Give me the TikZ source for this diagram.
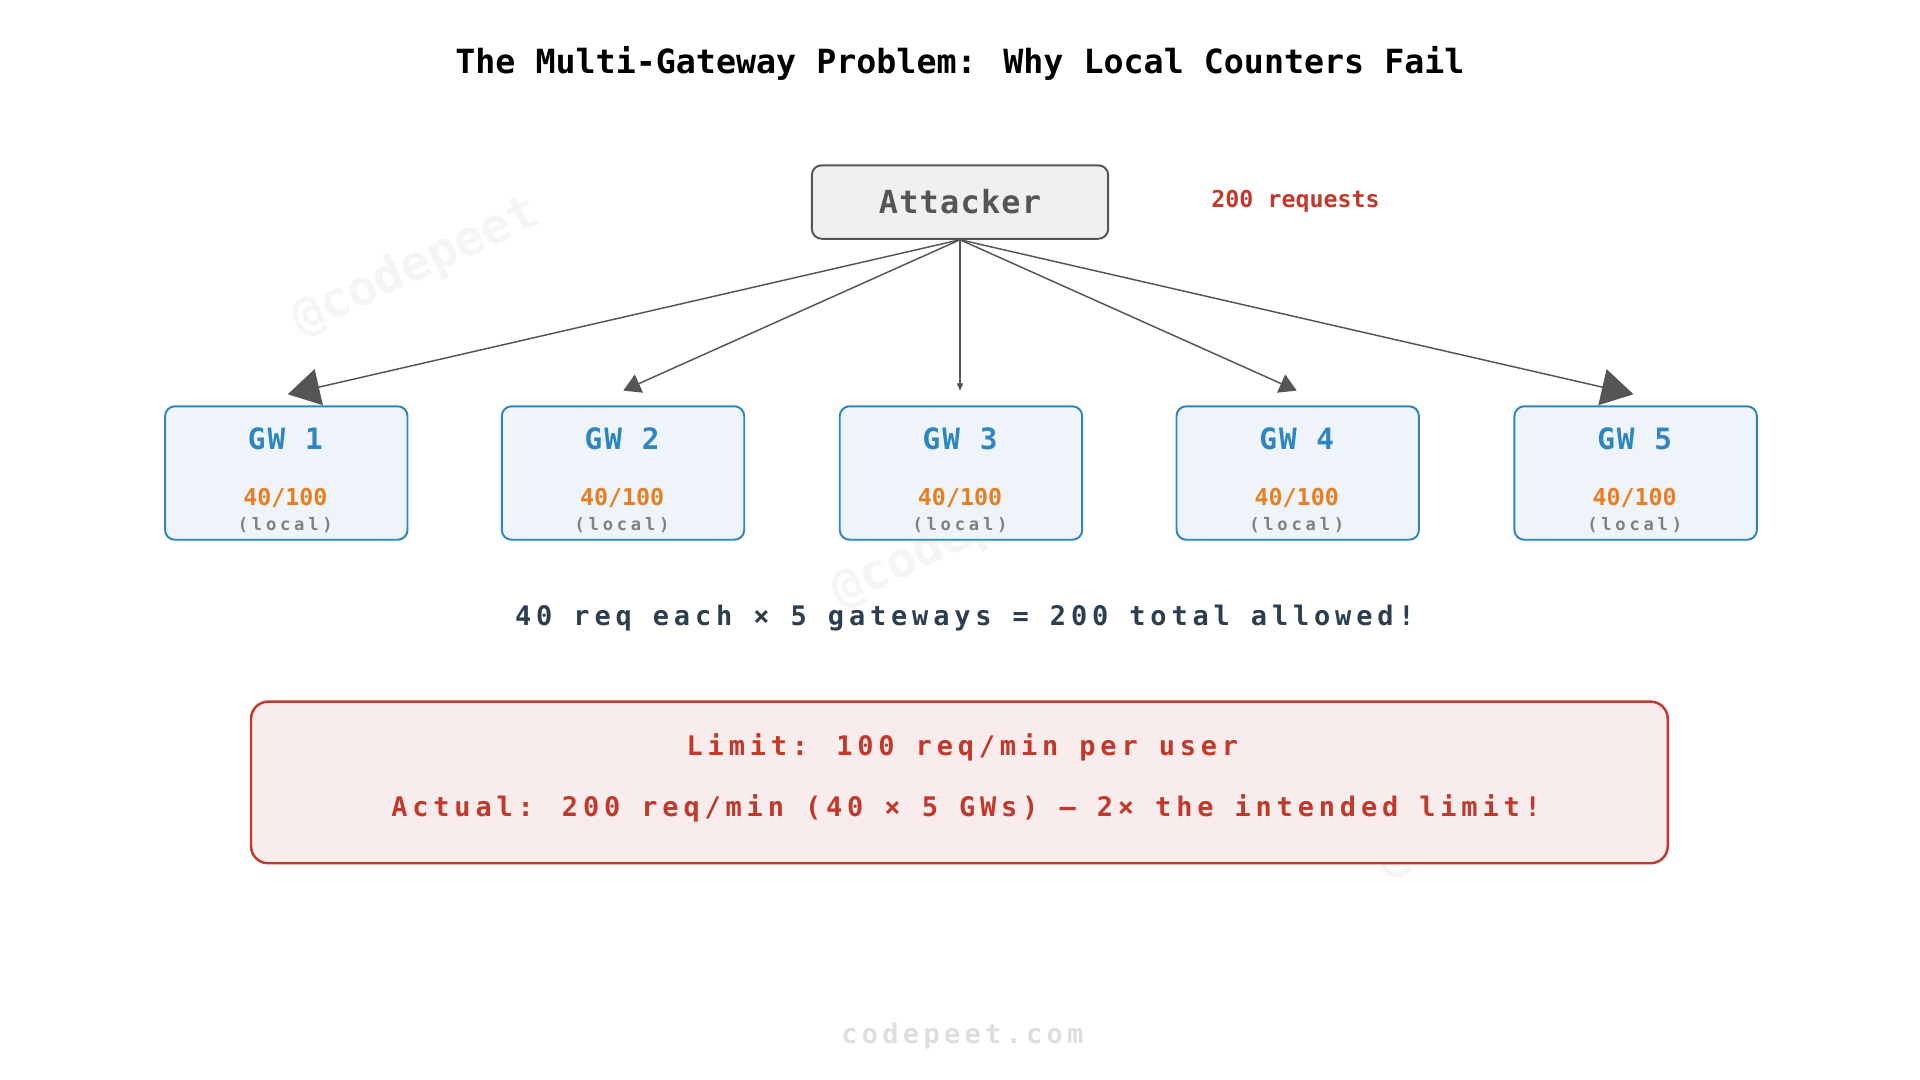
\documentclass[tikz,border=0pt]{standalone}
\usepackage{fontspec}
\setmainfont{DejaVu Sans Mono}
\newfontfamily\lsA{DejaVu Sans Mono}[LetterSpace=18]
\newfontfamily\lsB{DejaVu Sans Mono}[LetterSpace=7]
\newfontfamily\lsC{DejaVu Sans Mono}[LetterSpace=22]
\newfontfamily\lsD{DejaVu Sans Mono}[LetterSpace=4]
\newfontfamily\lsE{DejaVu Sans Mono}[LetterSpace=16]
\usetikzlibrary{arrows.meta}
\definecolor{gwb}{HTML}{2E86C1}
\definecolor{gwf}{HTML}{EEF4F9}
\definecolor{org}{HTML}{E67E22}
\definecolor{redd}{HTML}{C0392B}
\definecolor{redf}{HTML}{F9ECEC}
\definecolor{dk}{HTML}{2C3E50}
\definecolor{gy}{HTML}{555555}
\tikzset{
 gw/.style={draw=gwb,fill=gwf,line width=1.6pt,rounded corners=8pt,minimum width=198pt,minimum height=109pt,anchor=north west},
 gwt/.style={text=gwb,font=\lsB\fontsize{24}{28}\selectfont\bfseries},
 cnt/.style={text=org,font=\fontsize{19}{24}\selectfont\bfseries},
 loc/.style={text=gray,font=\lsC\fontsize{14}{16}\selectfont\bfseries},
 arr/.style={draw=gy,line width=1.2pt},
 wm/.style={text=black!4,font=\fontsize{40}{40}\selectfont\bfseries,rotate=25},
 redt/.style={text=redd,font=\lsA\fontsize{22}{26}\selectfont\bfseries}
}
\begin{document}
\begin{tikzpicture}[x=1pt,y=-1pt]
\path[use as bounding box,fill=white] (0,0) rectangle (1568,882);
\node[wm] (w1) at (340,218) {@codepeet};
\node[wm] (w2) at (780,440) {@codepeet};
\node[wm] (w3) at (1225,660) {@codepeet};
\node[font=\fontsize{27.2}{32}\selectfont\bfseries] (title) at (784,52) {The Multi-Gateway Problem: Why Local Counters Fail};
\node[draw=gy,fill=black!6,line width=1.6pt,rounded corners=8pt,minimum width=242pt,minimum height=60pt,text=gy,font=\lsD\fontsize{26}{30}\selectfont\bfseries] (att) at (784,165) {Attacker};
\node[text=redd,font=\fontsize{19}{22}\selectfont\bfseries] (req) at (1058,164) {200 requests};
\foreach \i/\x in {1/134,2/409,3/685,4/960,5/1236}{
 \node[gw] (g\i) at (\x,331) {};
 \node[gwt] (t\i) at (\x+99,358) {GW \i};
 \node[cnt] (c\i) at (\x+99,407) {40/100};
 \node[loc] (l\i) at (\x+99,429) {(local)};
}
\coordinate (a1) at (235,322);
\coordinate (a2) at (509,319);
\coordinate (a3) at (784,319);
\coordinate (a4) at (1059,319);
\coordinate (a5) at (1334,322);
\draw[arr,-{Triangle[length=26pt,width=30pt]}] (att.south) -- (a1);
\draw[arr,-{Triangle[length=14pt,width=16pt]}] (att.south) -- (a2);
\draw[arr,-{Triangle[length=6pt,width=5pt]}] (att.south) -- (a3);
\draw[arr,-{Triangle[length=14pt,width=16pt]}] (att.south) -- (a4);
\draw[arr,-{Triangle[length=26pt,width=30pt]}] (att.south) -- (a5);
\node[text=dk,font=\lsA\fontsize{22}{26}\selectfont\bfseries] (sum) at (788,505) {40 req each × 5 gateways = 200 total allowed!};
\node[draw=redd,fill=redf,line width=2pt,rounded corners=14pt,minimum width=1157pt,minimum height=132pt] (box) at (783.5,639) {};
\node[redt] (l1) at (786,610) {Limit: 100 req/min per user};
\node[redt] (l2) at (789,660) {Actual: 200 req/min (40 × 5 GWs) — 2× the intended limit!};
\node[text=black!13,font=\lsE\fontsize{22}{26}\selectfont\bfseries] (foot) at (786,846) {codepeet.com};
\end{tikzpicture}
\end{document}
